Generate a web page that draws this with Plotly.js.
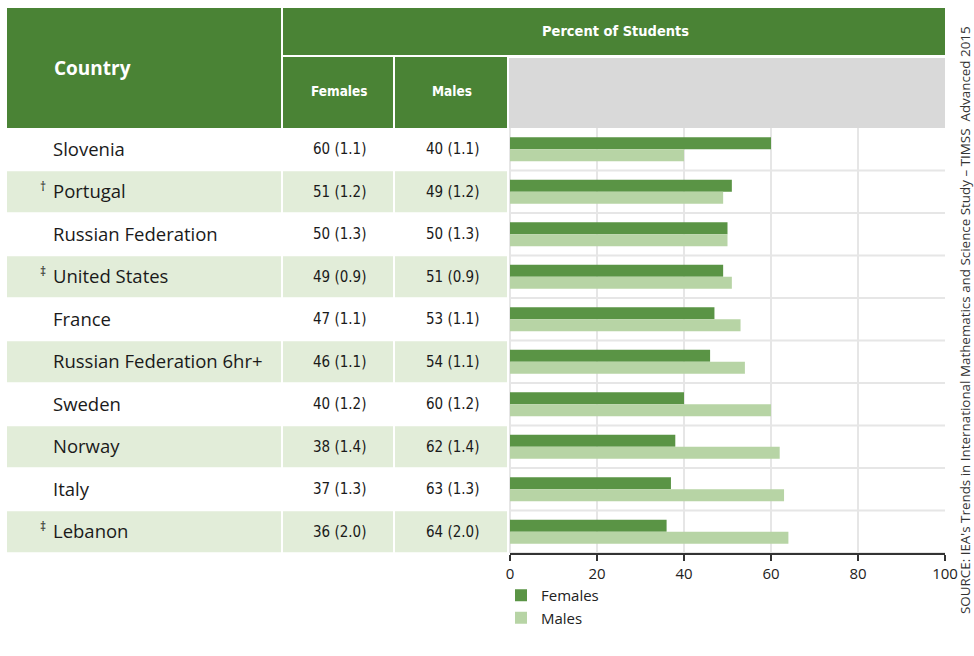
<!DOCTYPE html>
<html>
<head>
<meta charset="utf-8">
<script src="https://cdn.plot.ly/plotly-3.0.1.min.js"></script>
<style>html,body{margin:0;padding:0;background:#fff;}#chart{width:974px;height:656px;}</style>
</head>
<body>
<div id="chart"></div>
<script>
// ---- data ----
const countries = ["Slovenia","Portugal","Russian Federation","United States","France","Russian Federation 6hr+","Sweden","Norway","Italy","Lebanon"];
const marks = ["","\u2020","","\u2021","","","","","","\u2021"];
const females = [60,51,50,49,47,46,40,38,37,36];
const femalesSE = ["1.1","1.2","1.3","0.9","1.1","1.1","1.2","1.4","1.3","2.0"];
const males = [40,49,50,51,53,54,60,62,63,64];
const malesSE = ["1.1","1.2","1.3","0.9","1.1","1.1","1.2","1.4","1.3","2.0"];
const xTicks = [0,20,40,60,80,100];
const headerCountry = "Country";
const headerPercent = "Percent of Students";
const headerFemales = "Females";
const headerMales = "Males";
const sourceText = "SOURCE: IEA's Trends in International Mathematics and Science Study \u2013 TIMSS\u00a0 Advanced 2015";

// ---- layout helpers (pixels -> paper) ----
const W = 974, H = 656, L = 510, R = 945, T = 128, B = 553;
const px = x => (x - L) / (R - L);
const py = y => (B - y) / (B - T);

const DARK = "#4a8335", BAR_F = "#5a9445", BAR_M = "#b7d4a5", BAND = "#e2edd9", GREY = "#d9d9d9", GRID = "#e6e6e6";
const FONT = "'Open Sans', 'Noto Sans', sans-serif";
const COND = "'Liberation Sans Narrow', 'DejaVu Sans Condensed', 'Roboto Condensed', sans-serif";

const shapes = [];
const rect = (x0, x1, y0, y1, color) => shapes.push({type:"rect", xref:"paper", yref:"paper", x0:px(x0), x1:px(x1), y0:py(y1), y1:py(y0), fillcolor:color, line:{width:0}, layer:"below"});

// header
rect(7, 281, 8, 128, DARK);
rect(283, 945, 8, 55, DARK);
rect(283, 393, 57, 128, DARK);
rect(395, 507, 57, 128, DARK);
rect(509, 945, 58, 128, GREY);

// row bands (alternate rows)
countries.forEach((c, i) => {
  if (i % 2 === 1) {
    [[7,281],[283,393],[395,507]].forEach(([a,b]) => {
      shapes.push({type:"rect", xref:"paper", yref:"y", x0:px(a), x1:px(b), y0:i-0.5+0.02, y1:i+0.5-0.02, fillcolor:BAND, line:{width:0}, layer:"below"});
    });
  }
});
// horizontal grid lines between rows in plot area
for (let k = 0; k < countries.length; k++) {
  shapes.push({type:"line", xref:"paper", yref:"y", x0:0, x1:1, y0:k+0.5, y1:k+0.5, line:{color:GRID, width:2}, layer:"below"});
}

const annotations = [];
const ann = (o) => annotations.push(Object.assign({showarrow:false}, o));

ann({xref:"paper", yref:"paper", x:px(52), y:py(68), xanchor:"left", yanchor:"middle", text:"<b>"+headerCountry+"</b>", font:{family:FONT, size:19, color:"#fff"}});
ann({xref:"paper", yref:"paper", x:px(615), y:py(31), xanchor:"center", yanchor:"middle", text:"<b>"+headerPercent+"</b>", font:{family:COND, size:14.5, color:"#fff"}});
ann({xref:"paper", yref:"paper", x:px(339), y:py(91), xanchor:"center", yanchor:"middle", text:"<b>"+headerFemales+"</b>", font:{family:COND, size:13.5, color:"#fff"}});
ann({xref:"paper", yref:"paper", x:px(452), y:py(91), xanchor:"center", yanchor:"middle", text:"<b>"+headerMales+"</b>", font:{family:COND, size:13.5, color:"#fff"}});

countries.forEach((c, i) => {
  ann({xref:"paper", yref:"y", x:px(51), y:c, xanchor:"left", yanchor:"middle", yshift:1, text:c, font:{family:FONT, size:18.5, color:"#1a1a1a"}});
  if (marks[i]) ann({xref:"paper", yref:"y", x:px(48), y:c, xanchor:"right", yanchor:"middle", yshift:5, text:marks[i], font:{family:FONT, size:12, color:"#1a1a1a"}});
  ann({xref:"paper", yref:"y", x:px(339), y:c, xanchor:"center", yanchor:"middle", text:females[i]+" ("+femalesSE[i]+")", font:{family:COND, size:15, color:"#1a1a1a"}});
  ann({xref:"paper", yref:"y", x:px(452), y:c, xanchor:"center", yanchor:"middle", text:males[i]+" ("+malesSE[i]+")", font:{family:COND, size:15, color:"#1a1a1a"}});
});

ann({xref:"paper", yref:"paper", x:px(965), y:py(320), xanchor:"center", yanchor:"middle", textangle:-90, borderpad:0, text:sourceText, font:{family:FONT, size:13.4, color:"#333"}});

const data = [
  {type:"bar", orientation:"h", name:"Females", x:females, y:countries, marker:{color:BAR_F}, hoverinfo:"x+y"},
  {type:"bar", orientation:"h", name:"Males", x:males, y:countries, marker:{color:BAR_M}, hoverinfo:"x+y"}
];

const layout = {
  width:W, height:H,
  margin:{l:L, r:W-R, t:T, b:H-B, pad:0},
  paper_bgcolor:"#fff", plot_bgcolor:"rgba(0,0,0,0)",
  barmode:"group", bargap:0.44, bargroupgap:0,
  font:{family:FONT, color:"#222"},
  xaxis:{range:[0,100], tickvals:xTicks, ticktext:xTicks.map(String), showgrid:true, gridcolor:GRID, gridwidth:2,
         zeroline:true, zerolinecolor:GRID, zerolinewidth:2, showline:true, linecolor:"#333", linewidth:1.5,
         ticks:"outside", ticklen:6, tickcolor:"#333", tickwidth:1.5, tickfont:{family:FONT, size:15, color:"#222"}, fixedrange:true},
  yaxis:{type:"category", categoryorder:"array", categoryarray:countries, range:[9.5,-0.5], showticklabels:false, showgrid:false, zeroline:false, ticks:"", fixedrange:true},
  showlegend:true,
  legend:{orientation:"v", x:px(501), y:py(579), xanchor:"left", yanchor:"top", traceorder:"normal", font:{family:FONT, size:15, color:"#222"}, bgcolor:"rgba(0,0,0,0)", itemwidth:30},
  shapes:shapes, annotations:annotations
};

Plotly.newPlot("chart", data, layout, {displayModeBar:false, staticPlot:true});
</script>
</body>
</html>
